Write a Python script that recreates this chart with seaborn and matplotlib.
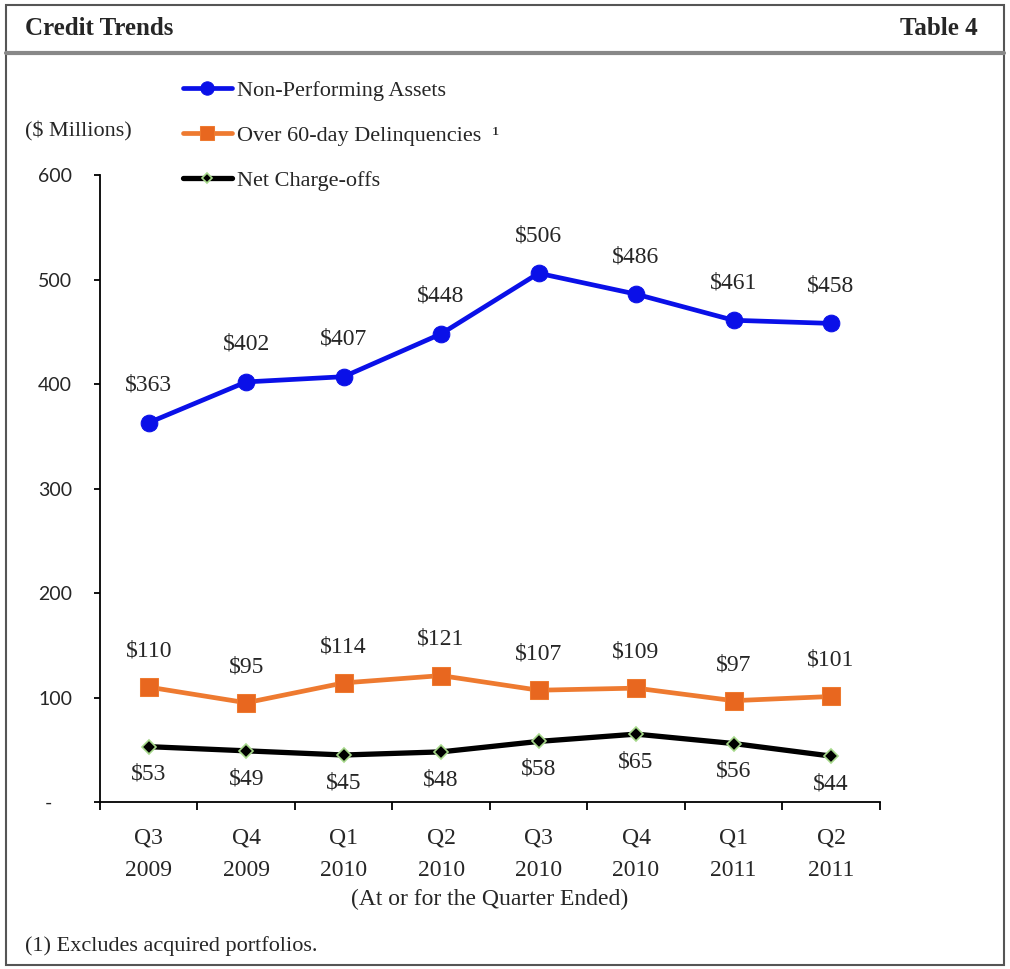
import numpy as np
import pandas as pd
import seaborn as sns
import matplotlib.pyplot as plt
from matplotlib.patches import Rectangle
from matplotlib.lines import Line2D

quarters = ['Q3\n2009', 'Q4\n2009', 'Q1\n2010', 'Q2\n2010', 'Q3\n2010', 'Q4\n2010', 'Q1\n2011', 'Q2\n2011']
npa = [363, 402, 407, 448, 506, 486, 461, 458]
delinq = [110, 95, 114, 121, 107, 109, 97, 101]
chargeoffs = [53, 49, 45, 48, 58, 65, 56, 44]
y_ticks = [0, 100, 200, 300, 400, 500, 600]
y_labels = ['-    ', '100', '200', '300', '400', '500', '600']

sns.set_theme(style="white")
plt.rcParams['font.family'] = ['Liberation Serif', 'DejaVu Serif']

fig = plt.figure(figsize=(10.1, 9.69), dpi=100)
ax = fig.add_axes([0.099, 0.1723, 0.772, 0.6471])

x = np.arange(len(quarters))
sns.lineplot(x=x, y=npa, ax=ax, color='#0A10E8', linewidth=3.4, marker='o', markersize=12,
             markeredgecolor='#0A10E8', label='Non-Performing Assets')
sns.lineplot(x=x, y=delinq, ax=ax, color='#EE7A30', linewidth=3.4, marker='s', markersize=13,
             markerfacecolor='#E8671F', markeredgecolor='#EE7A30', label='Over 60-day Delinquencies  ¹')
sns.lineplot(x=x, y=chargeoffs, ax=ax, color='black', linewidth=3.8, marker='D', markersize=7,
             markerfacecolor='black', markeredgecolor='#A6D88A', markeredgewidth=1.2, label='Net Charge-offs')

fs = 17
for i in range(len(quarters)):
    ax.annotate(f'${npa[i]}', (x[i], npa[i]), xytext=(0, 27), textcoords='offset points',
                ha='center', va='center', fontsize=fs)
    ax.annotate(f'${delinq[i]}', (x[i], delinq[i]), xytext=(0, 26), textcoords='offset points',
                ha='center', va='center', fontsize=fs)
    ax.annotate(f'${chargeoffs[i]}', (x[i], chargeoffs[i]), xytext=(0, -20), textcoords='offset points',
                ha='center', va='center', fontsize=fs)

ax.set_xlim(-0.5, len(quarters) - 0.5)
ax.set_ylim(0, 600)
ax.set_yticks(y_ticks)
ax.set_yticklabels(y_labels, fontsize=14, family=['Lato', 'DejaVu Sans'])
ax.set_xticks(x)
ax.set_xticklabels(quarters, fontsize=fs, linespacing=1.75)
ax.set_xticks(np.arange(-0.5, len(quarters), 1), minor=True)
ax.tick_params(axis='x', which='major', length=0, pad=18)
ax.tick_params(axis='x', which='minor', length=6, width=1.3, direction='out', color='black', bottom=True)
ax.tick_params(axis='y', length=4, width=1.3, direction='out', color='black', left=True, pad=16)
ax.set_xlabel('(At or for the Quarter Ended)', fontsize=fs, labelpad=6)
for s in ['top', 'right']:
    ax.spines[s].set_visible(False)
for s in ['left', 'bottom']:
    ax.spines[s].set_color('black')
    ax.spines[s].set_linewidth(1.3)

ax.get_legend().remove()
h, l = ax.get_legend_handles_labels()
fig.legend(h, l, loc='upper left', bbox_to_anchor=(0.181, 0.917), frameon=False, fontsize=16,
           handlelength=2.2, handletextpad=0.25, labelspacing=1.1, borderaxespad=0, borderpad=0,
           markerscale=0.8)

fig.text(0.025, 0.864, '($ Millions)', fontsize=16, va='center')
fig.text(0.025, 0.9705, 'Credit Trends', fontsize=18, fontweight='bold', va='center')
fig.text(0.968, 0.9705, 'Table 4', fontsize=18, fontweight='bold', va='center', ha='right')
fig.text(0.025, 0.024, '(1) Excludes acquired portfolios.', fontsize=16, va='center')

fig.add_artist(Rectangle((0.006, 0.004), 0.988, 0.991, transform=fig.transFigure, fill=False,
                         edgecolor='#555555', linewidth=1.5))
fig.add_artist(Line2D([0.006, 0.994], [0.945, 0.945], transform=fig.transFigure, color='#888888', linewidth=3))

fig.savefig('out.png', dpi=100)
